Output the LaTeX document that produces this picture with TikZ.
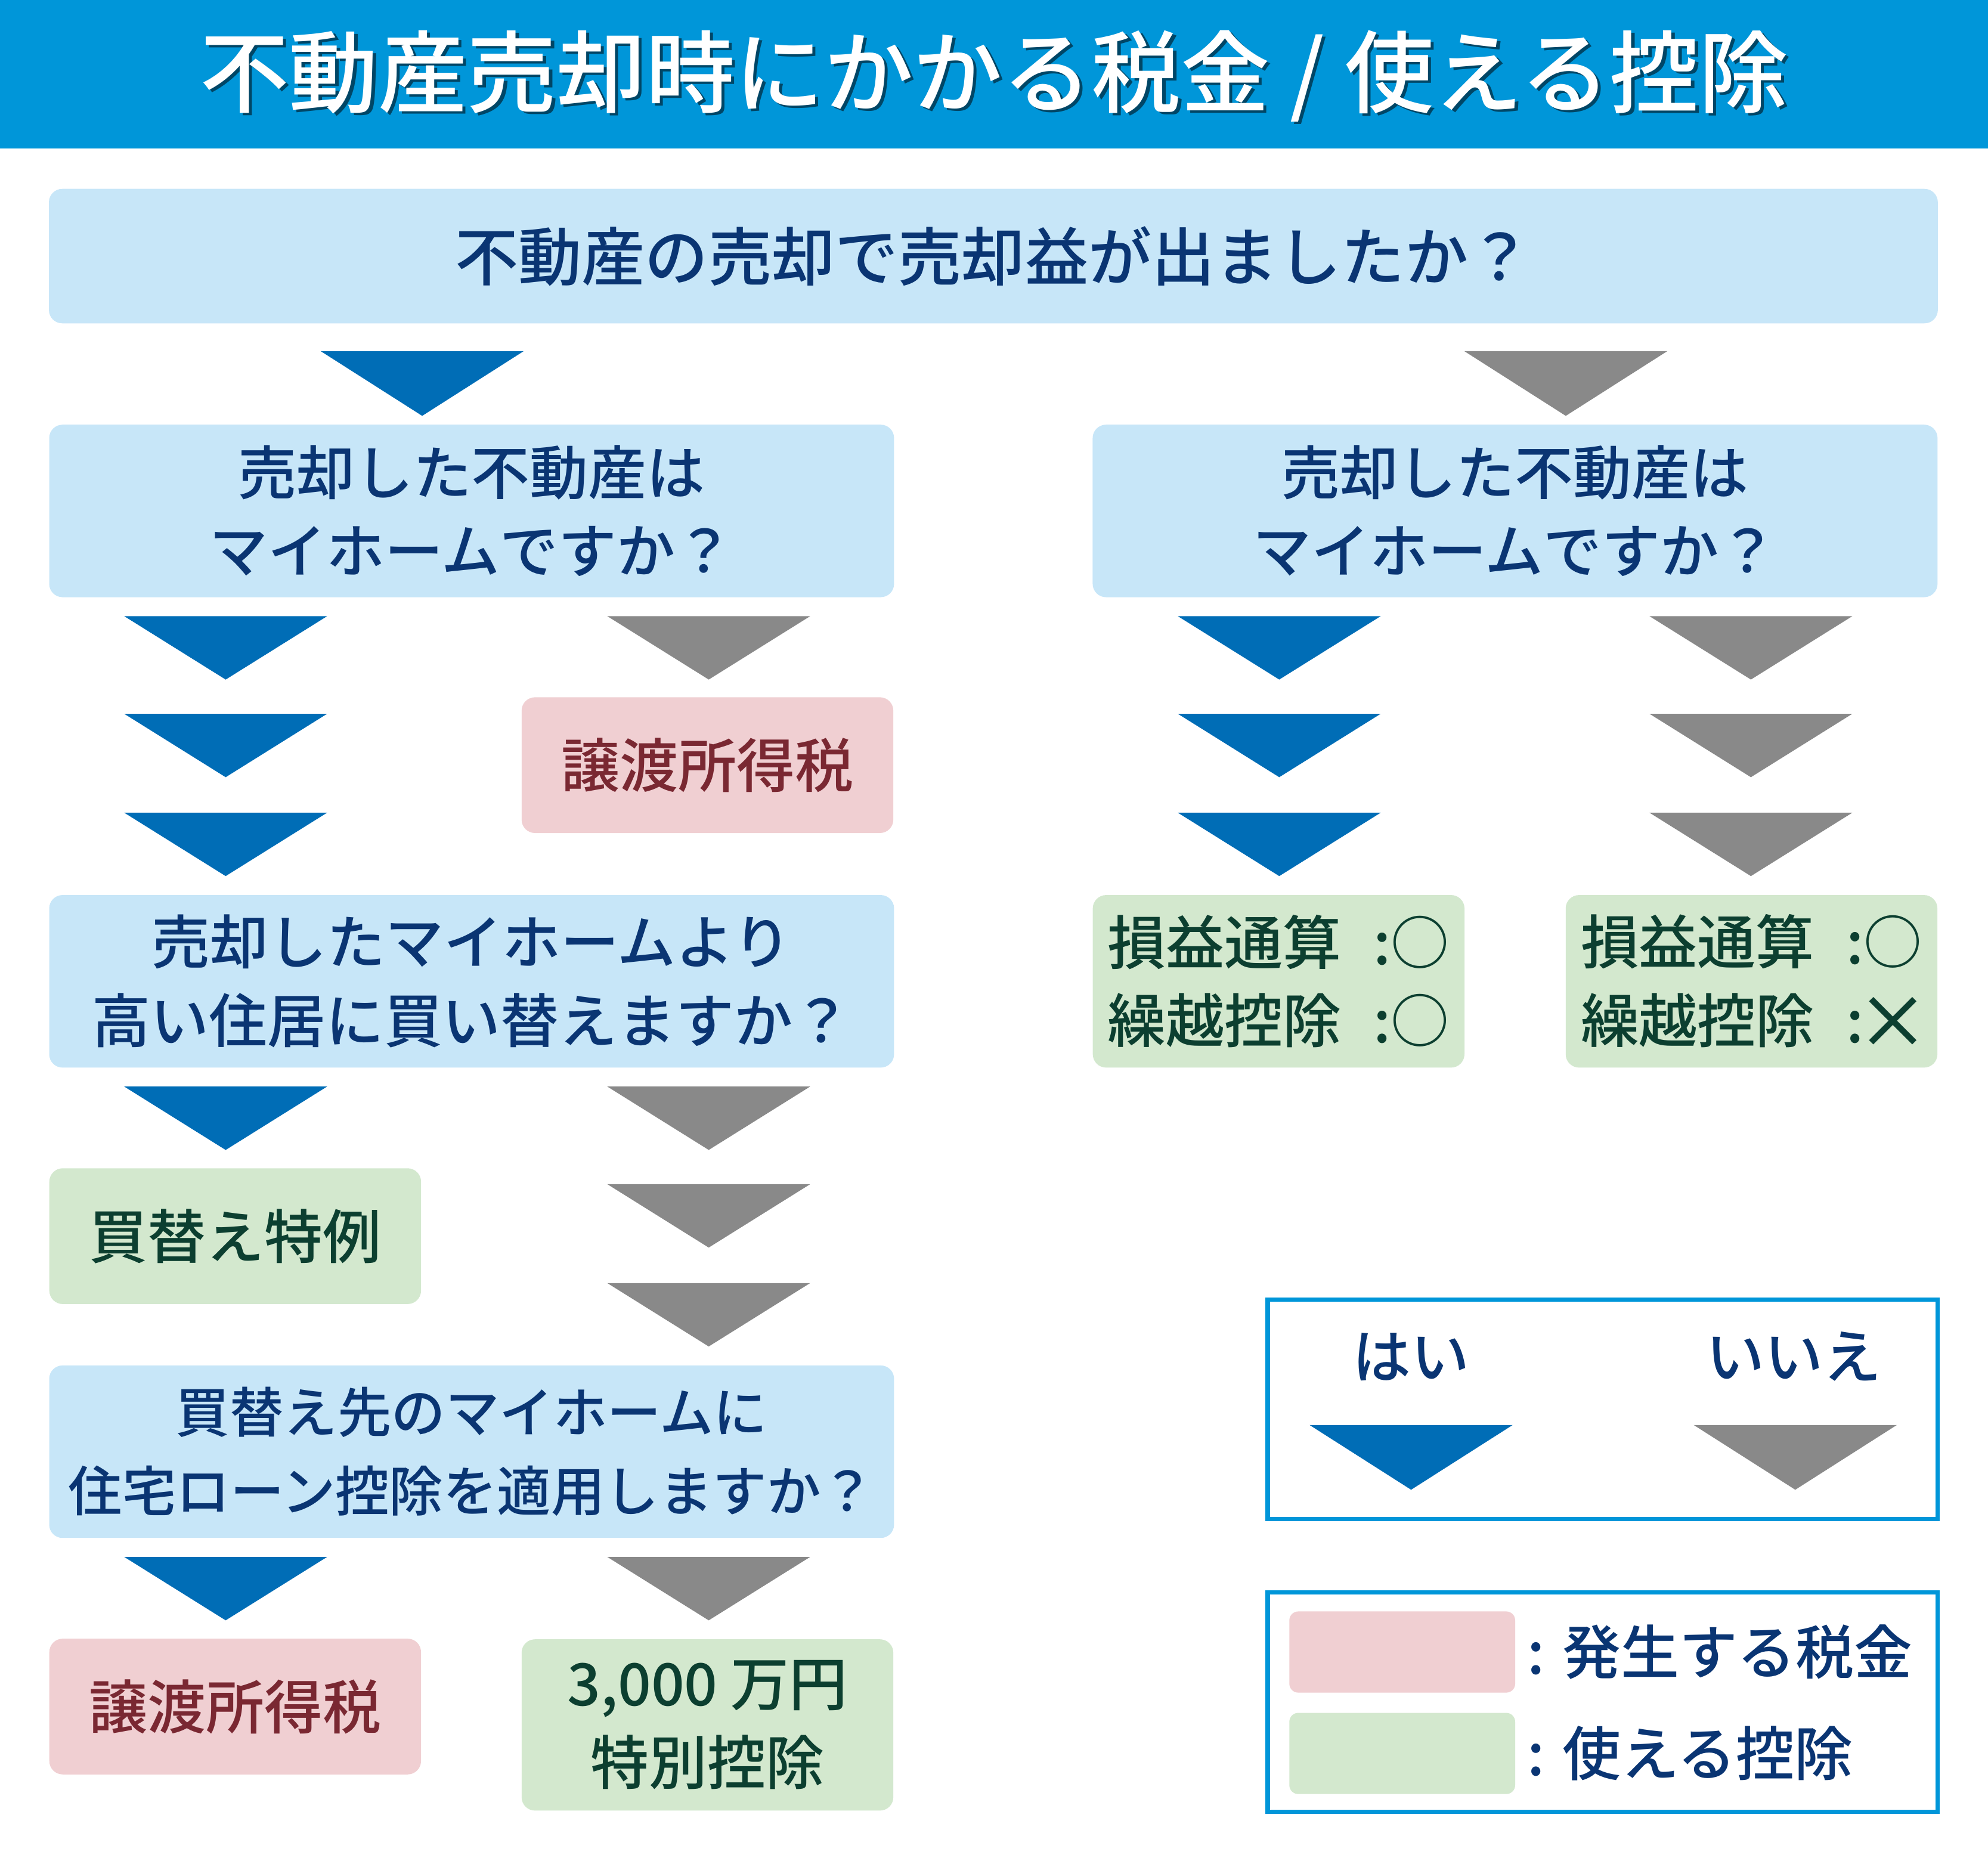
\documentclass[tikz,border=0pt]{standalone}
\usepackage{fontspec}
\IfFontExistsTF{Noto Sans CJK JP Medium}{\setmainfont{Noto Sans CJK JP Medium}}{\setmainfont{Noto Sans CJK JP}}
\usetikzlibrary{positioning}

\definecolor{titleblue}{RGB}{0,150,217}
\definecolor{qfill}{RGB}{199,230,248}
\definecolor{qtext}{RGB}{10,53,115}
\definecolor{yesblue}{RGB}{0,109,182}
\definecolor{nogray}{RGB}{137,137,137}
\definecolor{taxfill}{RGB}{240,207,210}
\definecolor{taxtext}{RGB}{122,40,50}
\definecolor{dedfill}{RGB}{211,232,206}
\definecolor{dedtext}{RGB}{12,63,48}

\begin{document}
\begin{tikzpicture}[
  x=0.01cm,y=-0.01cm,
  titletext/.style={font=\fontsize{20}{24}\selectfont, text=white, inner sep=0pt},
  qbox/.style={fill=qfill, rounded corners=3pt, minimum width=6.66cm, minimum height=1.36cm, inner sep=0pt, align=center, text=qtext, font=\fontsize{13.1}{17.6}\selectfont},
  taxbox/.style={fill=taxfill, rounded corners=3pt, minimum width=2.93cm, minimum height=1.07cm, inner sep=0pt, align=center, text=taxtext, font=\fontsize{13.1}{17.6}\selectfont},
  dedbox/.style={fill=dedfill, rounded corners=3pt, minimum width=2.93cm, minimum height=1.07cm, inner sep=0pt, align=center, text=dedtext, font=\fontsize{13.1}{17.6}\selectfont},
  legendbox/.style={draw=titleblue, line width=1pt, fill=white, minimum width=5.28cm, minimum height=1.73cm, inner sep=0pt},
  swatch/.style={rounded corners=2pt, minimum width=1.78cm, minimum height=0.64cm, inner sep=0pt},
  legendtext/.style={text=qtext, font=\fontsize{13.1}{17.6}\selectfont, inner sep=0pt},
  yesarrow/.style={fill=yesblue},
  noarrow/.style={fill=nogray}
]
  \useasboundingbox (0,0) rectangle (1568,1470);

  % title bar
  \fill[titleblue] (0,0) rectangle (1568,117);
  \node[titletext, text=black!75!titleblue, opacity=0.7] (titleshadow) at (786.5,62) {不動産売却時にかかる税金 / 使える控除};
  \node[titletext] (title) at (784,60) {不動産売却時にかかる税金 / 使える控除};

  % questions
  \node[qbox, minimum width=14.89cm, minimum height=1.06cm, font=\fontsize{14.2}{17.6}\selectfont] (q1) at (783.5,202) {不動産の売却で売却益が出ましたか？};
  \node[qbox] (q2l) at (372,403) {売却した不動産は\\マイホームですか？};
  \node[qbox] (q2r) at (1195,403) {売却した不動産は\\マイホームですか？};
  \node[qbox] (q3) at (372,774) {売却したマイホームより\\高い住居に買い替えますか？};
  \node[qbox, font=\fontsize{12.1}{17.6}\selectfont] (q4) at (372,1145) {買替え先のマイホームに\\住宅ローン控除を適用しますか？};

  % results
  \node[taxbox] (tax1) at (558,603.5) {譲渡所得税};
  \node[dedbox] (kaikae) at (185.5,975) {買替え特例};
  \node[taxbox] (tax2) at (185.5,1346) {譲渡所得税};
  \node[dedbox, minimum height=1.35cm] (special) at (558,1360.5) {3,000 万円\\特別控除};
  \node[dedbox, minimum height=1.36cm, align=left] (lossyes) at (1008.5,774) {損益通算\hspace{0.55em}:○\\繰越控除\hspace{0.55em}:○};
  \node[dedbox, minimum height=1.36cm, align=left] (lossno) at (1381.5,774) {損益通算\hspace{0.55em}:○\\繰越控除\hspace{0.55em}:\hbox to 1em{\hss\raisebox{-0.1em}{\scalebox{1.25}{×}}\hss}};

  % yes / no arrows
  \fill[yesarrow] (253,277) -- ++(160,0) -- ++(-80,51) -- cycle;
  \fill[noarrow] (1155,277) -- ++(160,0) -- ++(-80,51) -- cycle;
  \foreach \y in {486,563,641,857,1228}
    \fill[yesarrow] (98,\y) -- ++(160,0) -- ++(-80,50) -- cycle;
  \foreach \y in {486,857,934,1012,1228}
    \fill[noarrow] (479,\y) -- ++(160,0) -- ++(-80,50) -- cycle;
  \foreach \y in {486,563,641}{
    \fill[yesarrow] (929,\y) -- ++(160,0) -- ++(-80,50) -- cycle;
    \fill[noarrow] (1301,\y) -- ++(160,0) -- ++(-80,50) -- cycle;
  }

  % legend
  \node[legendbox] (legend1) at (1264,1111.5) {};
  \node[legendtext] (yes) at (1113,1070) {はい};
  \node[legendtext] (no) at (1415,1070) {いいえ};
  \fill[yesarrow] (1033,1124) -- ++(160,0) -- ++(-80,51) -- cycle;
  \fill[noarrow] (1336,1124) -- ++(160,0) -- ++(-80,51) -- cycle;

  \node[legendbox] (legend2) at (1264,1342.5) {};
  \node[swatch, fill=taxfill] (taxkey) at (1106,1303) {};
  \node[swatch, fill=dedfill] (dedkey) at (1106,1383) {};
  \node[legendtext, anchor=west] (taxlabel) at (1204,1303) {: 発生する税金};
  \node[legendtext, anchor=west] (dedlabel) at (1204,1383) {: 使える控除};
\end{tikzpicture}
\end{document}
